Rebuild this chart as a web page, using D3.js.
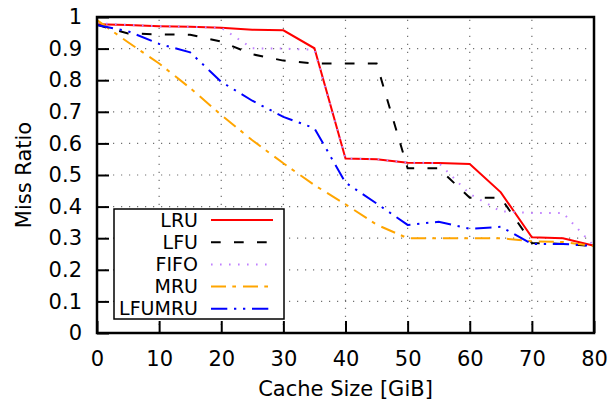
<!DOCTYPE html>
<html>
<head>
<meta charset="utf-8">
<script src="https://cdn.jsdelivr.net/npm/d3@7"></script>
<style>
  html, body { margin: 0; padding: 0; background: #fff; }
  svg { display: block; font-family: "DejaVu Sans", sans-serif; }
</style>
</head>
<body>
<svg id="chart" width="610" height="402"></svg>
<script>
// Cache sizes (GiB) at which each policy was measured
const cacheSizes = [0, 5, 10, 15, 20, 25, 30, 35, 40, 45, 50, 55, 60, 65, 70, 75, 80];

// Miss ratio per eviction policy
const lru    = [0.977, 0.975, 0.971, 0.969, 0.966, 0.960, 0.958, 0.901, 0.552, 0.550, 0.539, 0.538, 0.535, 0.445, 0.303, 0.300, 0.276];
const lfu    = [0.975, 0.948, 0.945, 0.944, 0.922, 0.882, 0.862, 0.853, 0.853, 0.853, 0.521, 0.521, 0.428, 0.428, 0.285, 0.282, 0.275];
const fifo   = [0.980, 0.975, 0.971, 0.969, 0.966, 0.901, 0.900, 0.896, 0.552, 0.550, 0.539, 0.538, 0.440, 0.385, 0.380, 0.380, 0.275];
const mru    = [0.990, 0.920, 0.853, 0.775, 0.690, 0.610, 0.537, 0.468, 0.407, 0.343, 0.300, 0.300, 0.300, 0.300, 0.290, 0.288, 0.275];
const lfumru = [0.975, 0.955, 0.915, 0.888, 0.795, 0.735, 0.684, 0.648, 0.476, 0.410, 0.342, 0.352, 0.330, 0.336, 0.282, 0.282, 0.275];

const seriesNames = ["LRU", "LFU", "FIFO", "MRU", "LFUMRU"];
const seriesValues = [lru, lfu, fifo, mru, lfumru];

const xTicks = [0, 10, 20, 30, 40, 50, 60, 70, 80];
const yTicks = [0, 0.1, 0.2, 0.3, 0.4, 0.5, 0.6, 0.7, 0.8, 0.9, 1];

// Line appearance per policy
const styles = [
  { color: "#ff0000", dash: null },
  { color: "#000000", dash: "9.7,13.3" },
  { color: "#c080ff", dash: "1.6,7.4" },
  { color: "#ffa500", dash: "15,6.3,3.7,7" },
  { color: "#0000ff", dash: "16.3,6.7,2.3,6.7,2.3,6.7" }
];

const svg = d3.select("#chart");
const tickFont = 21;
const titleFont = 21;
const legendFont = 19;

const x = d3.scaleLinear().domain([0, 80]).range([97, 594]);
const y = d3.scaleLinear().domain([0, 1]).range([333, 17]);

// Dotted grid
const grid = svg.append("g").attr("stroke", "#707070").attr("stroke-width", 1.2)
  .attr("stroke-dasharray", "1.2,6.8");
grid.selectAll("line.gx").data(xTicks.slice(1, -1)).join("line")
  .attr("x1", d => x(d)).attr("x2", d => x(d))
  .attr("y1", y(0)).attr("y2", y(1));
grid.selectAll("line.gy").data(yTicks.slice(1, -1)).join("line")
  .attr("x1", x(0)).attr("x2", x(80))
  .attr("y1", d => y(d)).attr("y2", d => y(d));

// Axes with inward ticks
const xAxis = svg.append("g").attr("transform", `translate(0,${y(0)})`)
  .call(d3.axisBottom(x).tickValues(xTicks).tickSize(-12).tickPadding(18).tickFormat(d3.format("d")));
const yAxis = svg.append("g").attr("transform", `translate(${x(0)},0)`)
  .call(d3.axisLeft(y).tickValues(yTicks).tickSize(-12).tickPadding(15).tickFormat(d => d === 0 ? "0" : d === 1 ? "1" : d3.format(".1f")(d)));
[xAxis, yAxis].forEach(a => {
  a.select(".domain").remove();
  a.selectAll(".tick line").attr("stroke", "#000").attr("stroke-width", 2);
  a.selectAll(".tick text").attr("fill", "#000").attr("font-size", tickFont)
    .attr("font-family", "DejaVu Sans, sans-serif");
});

// Series lines
const line = d3.line().x((d, i) => x(cacheSizes[i])).y(d => y(d));
const lines = svg.append("g").attr("fill", "none");
seriesValues.forEach((vals, k) => {
  lines.append("path").datum(vals)
    .attr("d", line)
    .attr("stroke", styles[k].color)
    .attr("stroke-width", 2)
    .attr("stroke-dasharray", styles[k].dash)
    .attr("stroke-linejoin", "miter");
});

// Plot border
svg.append("rect")
  .attr("x", x(0)).attr("y", y(1))
  .attr("width", x(80) - x(0)).attr("height", y(0) - y(1))
  .attr("fill", "none").attr("stroke", "#000").attr("stroke-width", 2.5);

// Legend
const legend = svg.append("g");
legend.append("rect")
  .attr("x", 114).attr("y", 209).attr("width", 170).attr("height", 110)
  .attr("fill", "#fff").attr("stroke", "#000").attr("stroke-width", 1.5);
seriesNames.forEach((name, k) => {
  const ly = 220 + k * 22.2;
  legend.append("text")
    .attr("x", 198).attr("y", ly).attr("dy", "0.35em")
    .attr("text-anchor", "end").attr("font-size", legendFont).attr("fill", "#000")
    .text(name);
  legend.append("line")
    .attr("x1", 211).attr("x2", 273).attr("y1", ly).attr("y2", ly)
    .attr("stroke", styles[k].color).attr("stroke-width", 2)
    .attr("stroke-dasharray", styles[k].dash);
});

// Axis titles
svg.append("text")
  .attr("x", (x(0) + x(80)) / 2).attr("y", 396)
  .attr("text-anchor", "middle").attr("font-size", titleFont).attr("fill", "#000")
  .text("Cache Size [GiB]");
svg.append("text")
  .attr("transform", `translate(31,${(y(0) + y(1)) / 2}) rotate(-90)`)
  .attr("text-anchor", "middle").attr("font-size", titleFont).attr("fill", "#000")
  .text("Miss Ratio");
</script>
</body>
</html>
